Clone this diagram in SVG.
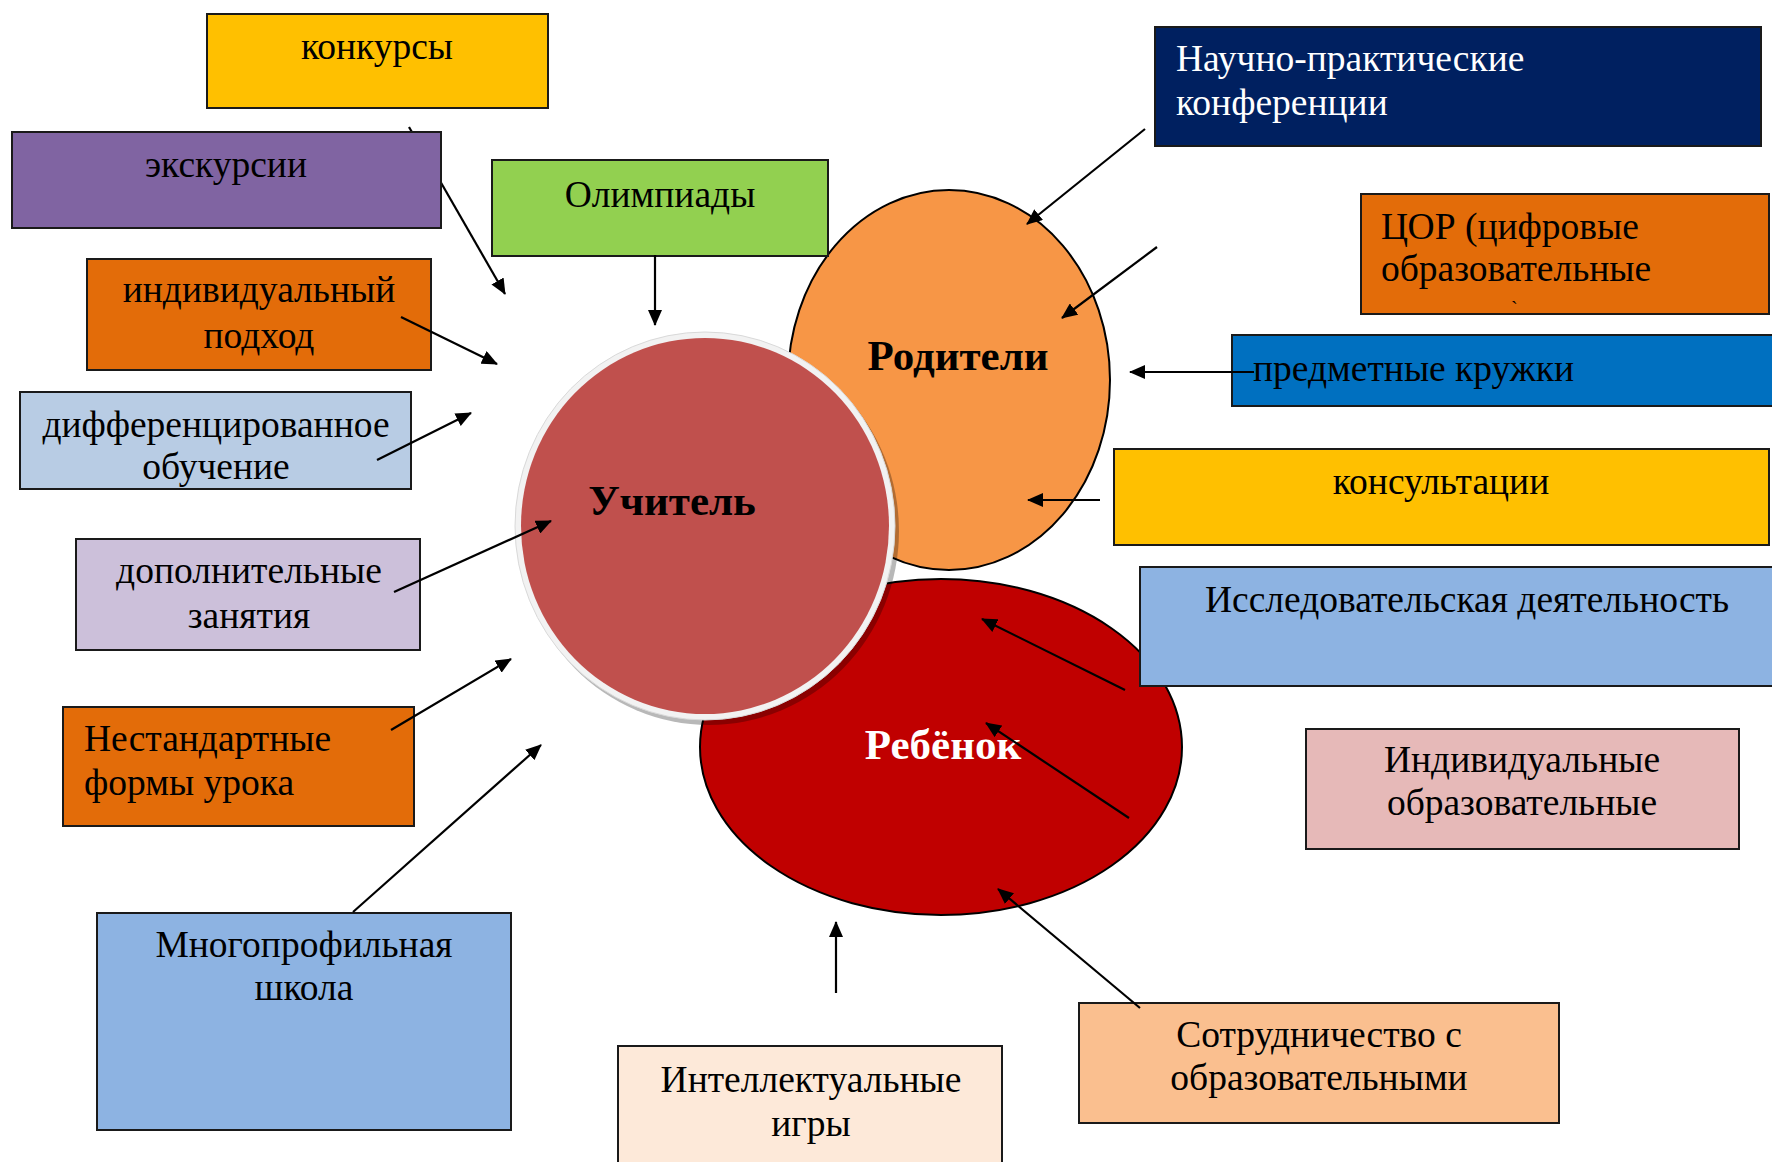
<svg xmlns="http://www.w3.org/2000/svg" width="1772" height="1162" viewBox="0 0 1772 1162">
<style>
  .box { stroke: #1a1a1a; stroke-width: 2; }
  .t { font-family: "Liberation Serif", "Times New Roman", serif; font-size: 37.5px; fill: #000; }
  .c { text-anchor: middle; }
  .w { fill: #fff; }
  .big { font-family: "Liberation Serif", "Times New Roman", serif; font-size: 43px; font-weight: bold; text-anchor: middle; }
  .con { stroke: #000; stroke-width: 2.2; fill: none; marker-end: url(#ah); }
</style>
<defs>
  <marker id="ah" viewBox="0 0 16 14" refX="15" refY="7" markerWidth="16" markerHeight="14" markerUnits="userSpaceOnUse" orient="auto">
    <path d="M0,0 L16,7 L0,14 z" fill="#000"/>
  </marker>
</defs>
<rect width="1772" height="1162" fill="#fff"/>

<g id="roditeli">
  <ellipse cx="949" cy="380" rx="161" ry="190" fill="#F79646" stroke="#000" stroke-width="2"/>
  <text class="big" x="958" y="370">Родители</text>
</g>
<g id="rebenok">
  <ellipse cx="941" cy="747" rx="241" ry="168" fill="#C00000" stroke="#000" stroke-width="2"/>
  <text class="big" x="943" y="759" fill="#fff">Ребёнок</text>
</g>
<g id="uchitel">
  <ellipse cx="709" cy="531" rx="190" ry="194" fill="#000" fill-opacity="0.28"/>
  <ellipse cx="705" cy="526" rx="190" ry="194" fill="#F2F2F2" stroke="#d9d9d9" stroke-width="1"/>
  <ellipse cx="705" cy="526" rx="184" ry="188" fill="#C0504D"/>
  <text class="big" x="672" y="515" fill="#000">Учитель</text>
</g>

<g id="konkursy">
  <rect class="box" x="207" y="14" width="341" height="94" fill="#FFC000"/>
  <text class="t c" x="377" y="59">конкурсы</text>
</g>
<g id="olimpiady">
  <rect class="box" x="492" y="160" width="336" height="96" fill="#92D050"/>
  <text class="t c" x="660" y="207">Олимпиады</text>
</g>
<g id="individualny">
  <rect class="box" x="87" y="259" width="344" height="111" fill="#E36C09"/>
  <text class="t c" x="259" y="302">индивидуальный</text>
  <text class="t c" x="259" y="348">подход</text>
</g>
<g id="differ">
  <rect class="box" x="20" y="392" width="391" height="97" fill="#B8CCE4"/>
  <text class="t c" x="216" y="437">дифференцированное</text>
  <text class="t c" x="216" y="479">обучение</text>
</g>
<g id="dopoln">
  <rect class="box" x="76" y="539" width="344" height="111" fill="#CCC0DA"/>
  <text class="t c" x="249" y="583">дополнительные</text>
  <text class="t c" x="249" y="628">занятия</text>
</g>
<g id="nestand">
  <rect class="box" x="63" y="707" width="351" height="119" fill="#E36C09"/>
  <text class="t" x="84" y="751">Нестандартные</text>
  <text class="t" x="84" y="795">формы урока</text>
</g>
<g id="mnogoprof">
  <rect class="box" x="97" y="913" width="414" height="217" fill="#8DB3E2"/>
  <text class="t c" x="304" y="957">Многопрофильная</text>
  <text class="t c" x="304" y="1000">школа</text>
</g>
<g id="intellekt">
  <rect class="box" x="618" y="1046" width="384" height="130" fill="#FDE9D9"/>
  <text class="t c" x="811" y="1092">Интеллектуальные</text>
  <text class="t c" x="811" y="1136">игры</text>
</g>
<g id="sotrud">
  <rect class="box" x="1079" y="1003" width="480" height="120" fill="#FABF8F"/>
  <text class="t c" x="1319" y="1047">Сотрудничество с</text>
  <text class="t c" x="1319" y="1090">образовательными</text>
</g>
<g id="indiv-obr">
  <rect class="box" x="1306" y="729" width="433" height="120" fill="#E6B9B8"/>
  <text class="t c" x="1522" y="772">Индивидуальные</text>
  <text class="t c" x="1522" y="815">образовательные</text>
</g>
<g id="issled">
  <rect class="box" x="1140" y="567" width="640" height="119" fill="#8DB3E2"/>
  <text class="t c" x="1467" y="612">Исследовательская деятельность</text>
</g>
<g id="konsult">
  <rect class="box" x="1114" y="449" width="655" height="96" fill="#FFC000"/>
  <text class="t c" x="1441" y="494">консультации</text>
</g>
<g id="kruzhki">
  <rect class="box" x="1232" y="335" width="548" height="71" fill="#0070C0"/>
  <text class="t" x="1253" y="381">предметные кружки</text>
</g>
<g id="cor">
  <rect class="box" x="1361" y="194" width="408" height="120" fill="#E36C09"/>
  <text class="t" x="1381" y="239">ЦОР (цифровые</text>
  <text class="t" x="1381" y="281">образовательные</text>
  <text class="t" x="1511" y="316" style="font-size:20px">`</text>
</g>
<g id="nauchno">
  <rect class="box" x="1155" y="27" width="606" height="119" fill="#002060"/>
  <text class="t w" x="1176" y="71">Научно-практические</text>
  <text class="t w" x="1176" y="115">конференции</text>
</g>

<g id="connectors">
  <line class="con" x1="409" y1="127" x2="505" y2="294"/>
  <line class="con" x1="401" y1="317" x2="497" y2="364"/>
  <line class="con" x1="377" y1="460" x2="471" y2="413"/>
  <line class="con" x1="394" y1="592" x2="551" y2="521"/>
  <line class="con" x1="391" y1="730" x2="511" y2="659"/>
  <line class="con" x1="353" y1="912" x2="541" y2="745"/>
  <line class="con" x1="655" y1="255" x2="655" y2="325"/>
  <line class="con" x1="1145" y1="129" x2="1027" y2="224"/>
  <line class="con" x1="1157" y1="247" x2="1062" y2="318"/>
  <line class="con" x1="1254" y1="372" x2="1130" y2="372"/>
  <line class="con" x1="1100" y1="500" x2="1028" y2="500"/>
  <line class="con" x1="1125" y1="690" x2="982" y2="619"/>
  <line class="con" x1="1129" y1="818" x2="986" y2="723"/>
  <line class="con" x1="1140" y1="1008" x2="998" y2="889"/>
  <line class="con" x1="836" y1="993" x2="836" y2="922"/>
</g>

<g id="ekskursii">
  <rect class="box" x="12" y="132" width="429" height="96" fill="#8064A2"/>
  <text class="t c" x="226" y="177">экскурсии</text>
</g>
</svg>
